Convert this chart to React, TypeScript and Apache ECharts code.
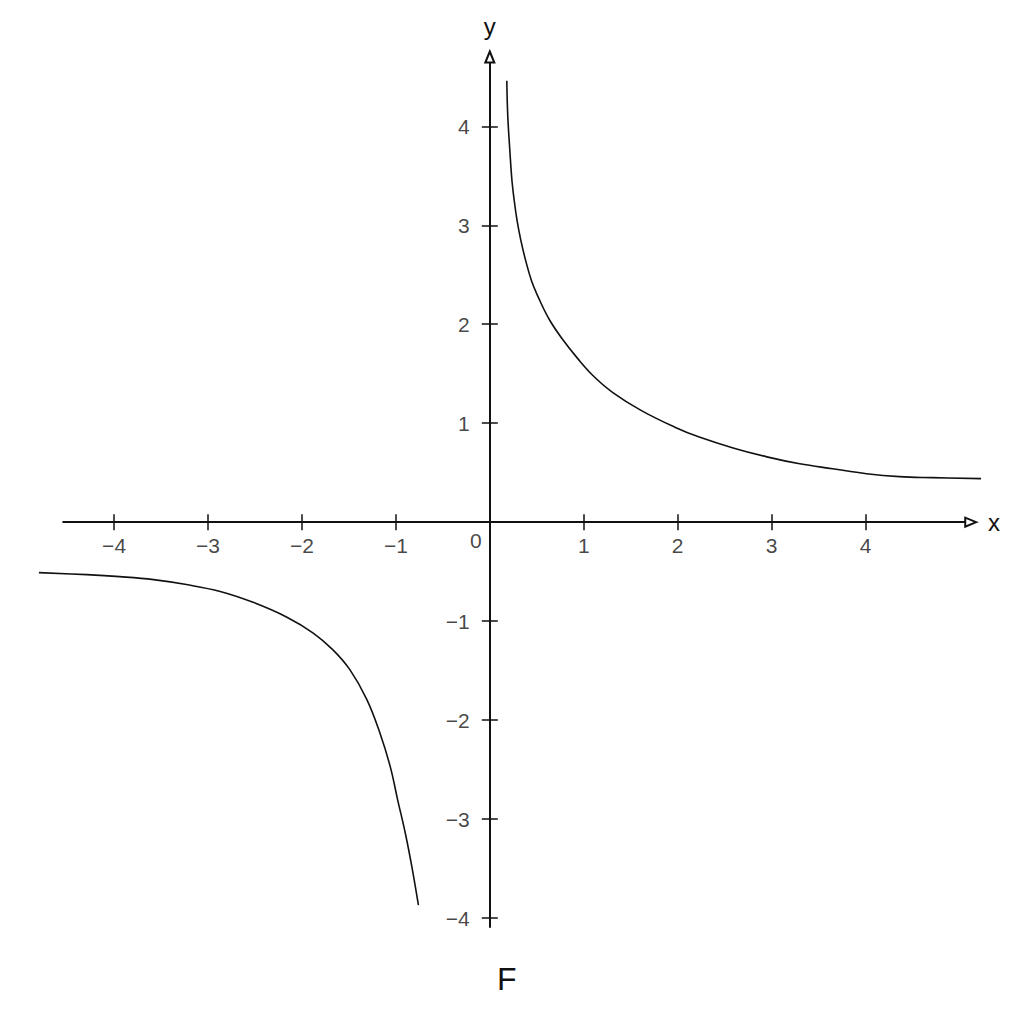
import { useEffect, useRef } from 'react';
import * as echarts from 'echarts';

// tick values shown on each axis (0 is drawn once, at the origin)
const xTicks = [-4, -3, -2, -1, 1, 2, 3, 4];
const yTicks = [-4, -3, -2, -1, 1, 2, 3, 4];

// right-hand branch
const upperX = [0.181, 0.191, 0.213, 0.236, 0.26, 0.29, 0.33, 0.38, 0.444, 0.532, 0.638, 0.78, 0.93, 1.1, 1.31, 1.61, 1.97, 2.23, 2.59, 2.95, 3.3, 3.65, 4.01, 4.36, 4.71, 5.23];
const upperY = [4.46, 4.11, 3.76, 3.45, 3.25, 3.05, 2.85, 2.65, 2.44, 2.24, 2.04, 1.84, 1.66, 1.48, 1.31, 1.13, 0.96, 0.86, 0.75, 0.66, 0.59, 0.54, 0.49, 0.46, 0.45, 0.44];

// left-hand branch
const lowerX = [-4.8, -4.29, -3.94, -3.58, -3.23, -2.87, -2.52, -2.16, -1.88, -1.67, -1.49, -1.31, -1.17, -1.06, -0.98, -0.9, -0.83, -0.76];
const lowerY = [-0.51, -0.53, -0.55, -0.58, -0.63, -0.7, -0.81, -0.96, -1.12, -1.29, -1.49, -1.79, -2.13, -2.47, -2.81, -3.14, -3.48, -3.87];

// where the drawn x-axis line starts and stops (shorter than the plot area)
const xLineFrom = -4.55;
const xLineTo = 5.12;

const FONT = '"Liberation Sans", Arial, sans-serif';
const INK = '#111';

export default function App() {
  const divRef = useRef<HTMLDivElement>(null);

  useEffect(() => {
    if (!divRef.current) return;
    const chart = echarts.init(divRef.current, undefined, { renderer: 'svg' });

    const zip = (xs: number[], ys: number[]) => xs.map((x, i) => [x, ys[i]]);
    const minusFmt = (v: number) => (v < 0 ? '\u2212' + Math.abs(v) : String(v));

    const curve = (data: number[][]) => ({
      type: 'line',
      data,
      smooth: 0.4,
      symbol: 'none',
      clip: false,
      silent: true,
      lineStyle: { color: INK, width: 1.6 },
    });

    // invisible points that only carry text
    const textOnly = (data: number[][], label: object) => ({
      type: 'scatter',
      data,
      symbolSize: 1,
      silent: true,
      itemStyle: { color: 'transparent' },
      label: {
        show: true,
        position: 'inside',
        fontSize: 21,
        color: '#151515',
        fontFamily: FONT,
        ...label,
      },
    });

    const X_MIN = -4.81;
    const X_MAX = 5.24;
    const Y_MIN = -4.09;
    const Y_MAX = 4.7;
    const tickStyle = { color: INK, width: 1.5 };

    chart.setOption({
      animation: false,
      backgroundColor: '#ffffff',
      textStyle: { fontFamily: FONT },
      title: {
        text: 'F',
        left: 497,
        top: 963,
        padding: 0,
        textStyle: { fontSize: 32, fontWeight: 'normal', color: INK, fontFamily: FONT },
      },
      grid: { left: 38, right: 42, top: 57, bottom: 97, containLabel: false, outerBoundsMode: 'none' },
      xAxis: [
        {
          type: 'value',
          min: X_MIN,
          max: X_MAX,
          name: 'x',
          nameLocation: 'end',
          nameGap: 6,
          nameMoveOverlap: false,
          nameTextStyle: { fontSize: 24, color: INK, fontFamily: FONT },
          axisLine: { show: false, onZero: true },
          axisTick: { show: true, length: 8, customValues: xTicks, lineStyle: tickStyle },
          axisLabel: { show: false },
          splitLine: { show: false },
        },
        {
          type: 'value',
          min: X_MIN,
          max: X_MAX,
          position: 'bottom',
          axisLine: { show: false, onZero: true, onZeroAxisIndex: 0 },
          axisTick: { show: true, inside: true, length: 8, customValues: xTicks, lineStyle: tickStyle },
          axisLabel: { show: false },
          splitLine: { show: false },
        },
      ],
      yAxis: [
        {
          type: 'value',
          min: Y_MIN,
          max: Y_MAX,
          name: 'y',
          nameLocation: 'end',
          nameGap: 19,
          nameMoveOverlap: false,
          nameTextStyle: { fontSize: 24, color: INK, fontFamily: FONT },
          axisLine: {
            show: true,
            onZero: true,
            symbol: ['none', 'emptyTriangle'],
            symbolSize: [9, 11],
            lineStyle: { color: INK, width: 2 },
          },
          axisTick: { show: true, length: 8, customValues: yTicks, lineStyle: tickStyle },
          axisLabel: { show: false },
          splitLine: { show: false },
        },
        {
          type: 'value',
          min: Y_MIN,
          max: Y_MAX,
          position: 'left',
          axisLine: { show: false, onZero: true, onZeroAxisIndex: 0 },
          axisTick: { show: true, inside: true, length: 8, customValues: yTicks, lineStyle: tickStyle },
          axisLabel: { show: false },
          splitLine: { show: false },
        },
      ],
      series: [
        {
          ...curve(zip(upperX, upperY)),
          // x-axis line with its open arrow head
          markLine: {
            silent: true,
            symbol: ['none', 'emptyTriangle'],
            symbolSize: [9, 11],
            label: { show: false },
            lineStyle: { color: INK, width: 2, type: 'solid' },
            emphasis: { disabled: true },
            data: [[{ coord: [xLineFrom, 0] }, { coord: [xLineTo, 0] }]],
          },
        },
        curve(zip(lowerX, lowerY)),
        textOnly(xTicks.map((v) => [v, 0]), { formatter: (p: any) => minusFmt(p.value[0]), offset: [0, 23.5] }),
        textOnly(yTicks.map((v) => [0, v]), { formatter: (p: any) => minusFmt(p.value[1]), align: 'right', offset: [-20, 0] }),
        textOnly([[0, 0]], { formatter: '0', offset: [-14, 18] }),
      ],
    });

    return () => chart.dispose();
  }, []);

  return (
    <div
      ref={divRef}
      style={{ position: 'absolute', left: 0, top: 0, width: 1024, height: 1024 }}
    />
  );
}
